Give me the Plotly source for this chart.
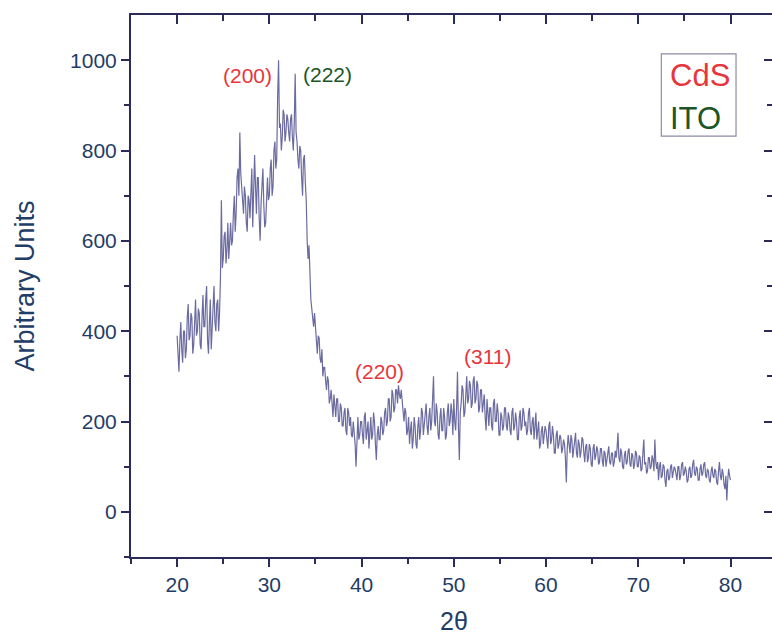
import plotly.graph_objects as go

# intensity (arbitrary units), 2-theta step 0.1 deg from 20.0 to 80.0
intensity = [
    390, 350, 310, 380, 420, 360, 330, 400, 400, 340, 360, 430, 460, 380, 390, 440, 430, 350, 370, 420,   # 20-21.9
    470, 390, 400, 450, 440, 370, 360, 430, 480, 410, 410, 470, 500, 380, 350, 420, 470, 360, 400, 450,   # 22-23.9
    500, 420, 400, 460, 470, 400, 440, 520, 690, 540, 560, 610, 620, 550, 580, 640, 560, 600, 640, 590,   # 24-25.9
    600, 660, 700, 620, 660, 740, 760, 700, 840, 750, 720, 680, 660, 720, 700, 640, 620, 700, 690, 650,   # 26-27.9
    700, 760, 630, 690, 790, 720, 660, 740, 740, 650, 600, 680, 720, 760, 680, 630, 640, 700, 740, 690,   # 28-29.9
    700, 760, 780, 700, 720, 800, 820, 760, 780, 920, 1000, 850, 860, 800, 830, 890, 880, 820, 840, 880,  # 30-31.9
    870, 840, 820, 870, 880, 830, 800, 860, 970, 840, 820, 780, 760, 810, 800, 740, 700, 780, 790, 730,   # 32-33.9
    690, 600, 560, 590, 520, 470, 450, 420, 410, 440, 400, 370, 350, 390, 385, 340, 330, 360, 300, 320,   # 34-35.9
    320, 290, 270, 300, 290, 240, 250, 270, 240, 210, 260, 230, 210, 250, 250, 200, 200, 240, 230, 190,   # 36-37.9
    190, 220, 230, 180, 170, 230, 220, 190, 210, 170, 165, 200, 180, 150, 100, 190, 210, 160, 170, 200,   # 38-39.9
    200, 170, 150, 210, 220, 160, 180, 200, 140, 190, 210, 160, 170, 220, 200, 150, 115, 170, 190, 160,   # 40-41.9
    160, 210, 200, 170, 180, 220, 230, 190, 200, 250, 250, 200, 210, 270, 260, 220, 230, 270, 270, 240,   # 42-43.9
    280, 260, 250, 270, 240, 210, 200, 230, 220, 170, 180, 210, 150, 180, 200, 140, 160, 210, 190, 150,   # 44-45.9
    140, 190, 210, 160, 180, 230, 220, 170, 190, 220, 240, 190, 170, 210, 230, 180, 200, 250, 300, 200,   # 46-47.9
    190, 240, 220, 170, 160, 210, 230, 180, 180, 230, 210, 160, 170, 220, 240, 190, 200, 240, 220, 170,   # 48-49.9
    250, 200, 180, 230, 310, 190, 115, 220, 240, 280, 270, 210, 220, 260, 300, 240, 250, 290, 280, 230,   # 50-51.9
    240, 290, 300, 240, 250, 290, 280, 220, 230, 270, 270, 220, 240, 260, 210, 180, 250, 220, 190, 230,   # 52-53.9
    230, 190, 180, 240, 250, 200, 200, 240, 220, 170, 170, 220, 210, 180, 190, 230, 230, 190, 180, 220,   # 54-55.9
    210, 180, 170, 220, 230, 180, 190, 220, 200, 160, 160, 210, 225, 180, 190, 230, 220, 190, 200, 170,   # 56-57.9
    180, 220, 230, 180, 170, 200, 210, 160, 190, 220, 160, 190, 200, 140, 150, 180, 190, 150, 170, 190,   # 58-59.9
    180, 150, 140, 190, 200, 150, 160, 190, 170, 130, 130, 170, 180, 140, 150, 170, 165, 130, 140, 160,   # 60-61.9
    150, 120, 65, 140, 170, 150, 130, 170, 160, 120, 140, 165, 175, 130, 120, 160, 150, 120, 135, 165,    # 62-63.9
    160, 130, 110, 145, 150, 110, 120, 150, 140, 105, 100, 140, 150, 115, 125, 145, 135, 105, 110, 140,   # 64-65.9
    140, 115, 100, 135, 130, 100, 115, 140, 145, 110, 105, 130, 130, 100, 110, 135, 120, 140, 175, 120,   # 66-67.9
    110, 140, 130, 100, 95, 125, 135, 105, 110, 135, 140, 105, 100, 130, 125, 95, 105, 135, 130, 100,     # 68-69.9
    100, 125, 120, 90, 95, 130, 160, 105, 110, 85, 90, 120, 120, 95, 100, 125, 115, 90, 160, 110,         # 70-71.9
    95, 110, 70, 100, 110, 75, 80, 105, 100, 70, 55, 90, 95, 70, 75, 100, 105, 75, 85, 100,               # 72-73.9
    95, 75, 70, 100, 100, 70, 80, 105, 110, 80, 85, 100, 90, 65, 70, 95, 100, 75, 80, 105,               # 74-75.9
    115, 85, 80, 100, 95, 70, 70, 95, 105, 80, 85, 105, 110, 80, 75, 95, 90, 70, 65, 90,                  # 76-77.9
    100, 80, 75, 95, 90, 65, 60, 90, 110, 80, 70, 95, 85, 60, 50, 80, 25, 70, 95, 80,                     # 78-79.9
    70,                                                                                                   # 80.0
]
two_theta = [round(20 + 0.1 * i, 1) for i in range(len(intensity))]

x_ticks = [20, 30, 40, 50, 60, 70, 80]
y_ticks = [0, 200, 400, 600, 800, 1000]

peak_labels = ["(200)", "(222)", "(220)", "(311)"]
peak_x = [27.6, 36.3, 41.9, 53.6]
peak_y = [967, 969, 310, 345]
peak_colors = ["#e8353b", "#1d5526", "#e8353b", "#e8353b"]

legend_labels = ["CdS", "ITO"]
legend_y = [965, 870]
legend_colors = ["#e8353b", "#1d5526"]

AX = "#2b2b58"
TXT = "#1f3d66"
FONT = "Liberation Sans, Arial, sans-serif"

fig = go.Figure()
fig.add_trace(go.Scatter(
    x=two_theta, y=intensity, mode="lines",
    line=dict(color="rgba(58,58,128,0.75)", width=1.2),
    showlegend=False, hoverinfo="skip",
))
# empty trace so the mirrored (inward-tick) axes get drawn
fig.add_trace(go.Scatter(x=[], y=[], xaxis="x2", yaxis="y2", showlegend=False))

for lab, xx, yy, col in zip(peak_labels, peak_x, peak_y, peak_colors):
    fig.add_annotation(x=xx, y=yy, text=lab, showarrow=False,
                       font=dict(size=21, color=col, family=FONT),
                       bgcolor="white", xanchor="center", yanchor="middle")

# legend-like box
fig.add_shape(type="rect", xref="x", yref="y", x0=72.5, x1=80.6, y0=832, y1=1014,
              line=dict(color="#8c8ca6", width=1.2), fillcolor="white", layer="above")
for lab, yy, col in zip(legend_labels, legend_y, legend_colors):
    fig.add_annotation(x=73.2, y=yy, text=lab, showarrow=False,
                       font=dict(size=31, color=col, family=FONT),
                       xanchor="left", yanchor="middle")

# axis titles
fig.add_annotation(xref="paper", yref="paper", x=-0.166, y=0.5, text="Arbitrary Units",
                   textangle=-90, showarrow=False, xanchor="center", yanchor="middle",
                   font=dict(size=27, color=TXT, family=FONT))
fig.add_annotation(xref="paper", yref="paper", x=0.504, y=-0.119, text="2θ",
                   showarrow=False, xanchor="center", yanchor="middle",
                   font=dict(size=25, color=TXT, family=FONT))

fig.update_layout(
    width=772, height=635,
    margin=dict(l=131, r=0, t=15, b=78),
    paper_bgcolor="white", plot_bgcolor="white",
    font=dict(family=FONT, color=TXT),
    xaxis=dict(
        range=[15, 84.5], tickmode="array", tickvals=x_ticks,
        ticks="outside", ticklen=8, tickwidth=2, tickcolor=AX,
        minor=dict(tickvals=[15, 25, 35, 45, 55, 65, 75], ticks="outside", ticklen=5, tickwidth=2, tickcolor=AX),
        showline=True, linecolor=AX, linewidth=2, showgrid=False, zeroline=False,
        tickfont=dict(size=21, color=TXT), automargin=False,
    ),
    yaxis=dict(
        range=[-100, 1100], tickmode="array", tickvals=y_ticks,
        ticks="outside", ticklen=8, tickwidth=2, tickcolor=AX,
        minor=dict(tickvals=[-100, 100, 300, 500, 700, 900], ticks="outside", ticklen=5, tickwidth=2, tickcolor=AX),
        showline=True, linecolor=AX, linewidth=2, showgrid=False, zeroline=False,
        tickfont=dict(size=21, color=TXT), automargin=False,
    ),
    xaxis2=dict(
        overlaying="x", side="top", matches="x", range=[15, 84.5],
        tickmode="array", tickvals=x_ticks,
        ticks="inside", ticklen=9, tickwidth=2, tickcolor=AX,
        minor=dict(tickvals=[25, 35, 45, 55, 65, 75], ticks="inside", ticklen=6, tickwidth=2, tickcolor=AX),
        showline=True, linecolor=AX, linewidth=2, showticklabels=False, showgrid=False, zeroline=False,
    ),
    yaxis2=dict(
        overlaying="y", side="right", matches="y", range=[-100, 1100],
        tickmode="array", tickvals=y_ticks,
        ticks="inside", ticklen=8, tickwidth=2, tickcolor=AX,
        minor=dict(tickvals=[100, 300, 500, 700, 900], ticks="inside", ticklen=5, tickwidth=2, tickcolor=AX),
        showline=True, linecolor=AX, linewidth=2, showticklabels=False, showgrid=False, zeroline=False,
    ),
)

fig.write_html("out.html")
